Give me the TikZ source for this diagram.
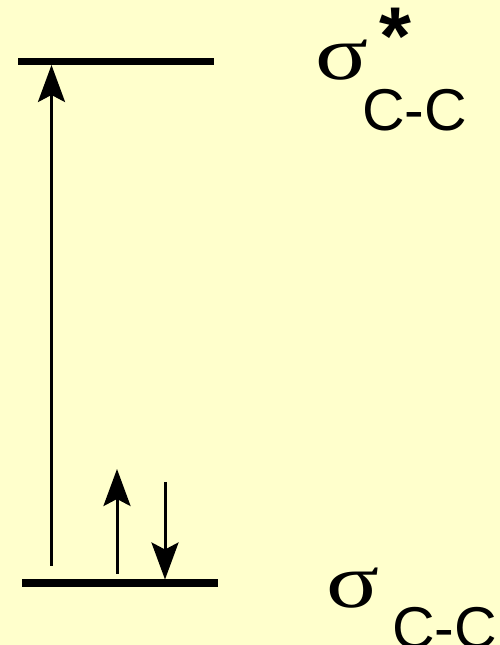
\documentclass[tikz,border=0pt]{standalone}
\usepackage{fontspec}
\setmainfont{Liberation Sans}
\newfontfamily\grk{Liberation Serif}
\usetikzlibrary{arrows.meta}
\definecolor{bgyellow}{RGB}{255,255,204}
\begin{document}
\begin{tikzpicture}[x=1pt,y=1pt,
  level/.style={line width=7.5pt},
  spin/.style={line width=3pt,-{Stealth[length=37pt,width=27pt,inset=7pt]}},
  sig/.style={anchor=base west,inner sep=0pt,xscale=1.07,yscale=0.84,font=\grk\fontsize{92}{92}\selectfont},
  sub/.style={anchor=base west,inner sep=0pt,font=\fontsize{59}{59}\selectfont},
  star/.style={anchor=base west,inner sep=0pt,font=\bfseries\fontsize{82}{82}\selectfont}]
\fill[bgyellow] (0,0) rectangle (500,645);
\useasboundingbox (0,0) rectangle (500,645);
% levels
\coordinate (tl) at (18,583.5);
\coordinate (tr) at (214,583.5);
\coordinate (bl) at (22,62);
\coordinate (br) at (218,62);
\draw[level] (tl) -- (tr);
\draw[level] (bl) -- (br);
% excitation arrow
\coordinate (exS) at (51.5,79);
\coordinate (exE) at (51.5,580);
\draw[spin] (exS) -- (exE);
% electron spins
\coordinate (upS) at (117,71);
\coordinate (upE) at (117,176);
\draw[spin] (upS) -- (upE);
\coordinate (dnS) at (165,163);
\coordinate (dnE) at (165,65.5);
\draw[spin] (dnS) -- (dnE);
% labels
\node[sig] (s1) at (315,565) {σ};
\node[star] (st) at (379,580) {*};
\node[sub] (c1) at (362,514) {C-C};
\node[sig] (s2) at (326,37) {σ};
\node[sub] (c2) at (392,-4) {C-C};
\end{tikzpicture}
\end{document}
